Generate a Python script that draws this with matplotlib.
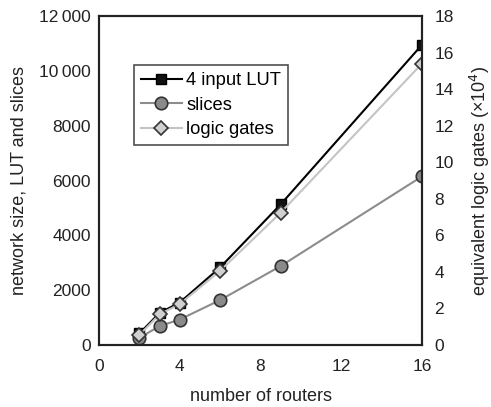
import matplotlib
matplotlib.use("Agg")
import matplotlib.pyplot as plt
from matplotlib.ticker import FuncFormatter

plt.rcParams['font.family'] = ['Liberation Sans', 'DejaVu Sans']

routers = [2, 3, 4, 6, 9, 16]
lut = [420, 1170, 1550, 2830, 5130, 10950]
slices = [260, 690, 930, 1640, 2880, 6150]
logic_gates = [0.55, 1.68, 2.24, 4.06, 7.24, 15.4]   # x10^4

x_ticks = [0, 4, 8, 12, 16]
left_ticks = [0, 2000, 4000, 6000, 8000, 10000, 12000]
right_ticks = [0, 2, 4, 6, 8, 10, 12, 14, 16, 18]

ink = '#222222'

fig = plt.figure(figsize=(4.91, 4.07), dpi=100)
ax = fig.add_axes([0.2016, 0.1523, 0.6579, 0.8084])
ax2 = ax.twinx()

l1, = ax.plot(routers, lut, color='black', lw=1.5, marker='s', ms=7,
              mfc='#111111', mec='black', label='4 input LUT')
l2, = ax.plot(routers, slices, color='#8c8c8c', lw=1.5, marker='o', ms=9,
              mfc='#8a8a8a', mec='#333333', mew=1.2, label='slices')
l3, = ax2.plot(routers, logic_gates, color='#c4c4c4', lw=1.5, marker='D', ms=7,
               mfc='#d0d0d0', mec='#333333', mew=1.2, label='logic gates')

ax.set_xlim(0, 16)
ax.set_ylim(0, 12000)
ax2.set_ylim(0, 18)
ax.set_xticks(x_ticks)
ax.set_yticks(left_ticks)
ax2.set_yticks(right_ticks)

def fmt(v, pos):
    v = int(v)
    if v >= 10000:
        return f"{v // 1000}\u2009{v % 1000:03d}"
    return str(v)

ax.yaxis.set_major_formatter(FuncFormatter(fmt))

for a in (ax, ax2):
    a.tick_params(length=0, labelsize=12.5, colors=ink)
    for s in a.spines.values():
        s.set_linewidth(1.5)
        s.set_color(ink)
ax.tick_params(axis='x', pad=10)
ax.tick_params(axis='y', pad=6)
ax2.tick_params(axis='y', pad=9)

ax.set_xlabel('number of routers', fontsize=13, labelpad=10, color=ink)
ax.set_ylabel('network size, LUT and slices', fontsize=13, labelpad=8, color=ink)
ax2.set_ylabel('equivalent logic gates (\u00d710$^4$)', fontsize=13, labelpad=10, color=ink)

leg = ax2.legend(handles=[l1, l2, l3], loc='upper left', bbox_to_anchor=(0.108, 0.851),
                 fontsize=13.2, frameon=True, fancybox=False, handlelength=2.2,
                 borderpad=0.4, labelspacing=0.4, handletextpad=0.25,
                 borderaxespad=0)
leg.get_frame().set_edgecolor(ink)
leg.get_frame().set_linewidth(1.2)

fig.savefig('out.png', dpi=100)
